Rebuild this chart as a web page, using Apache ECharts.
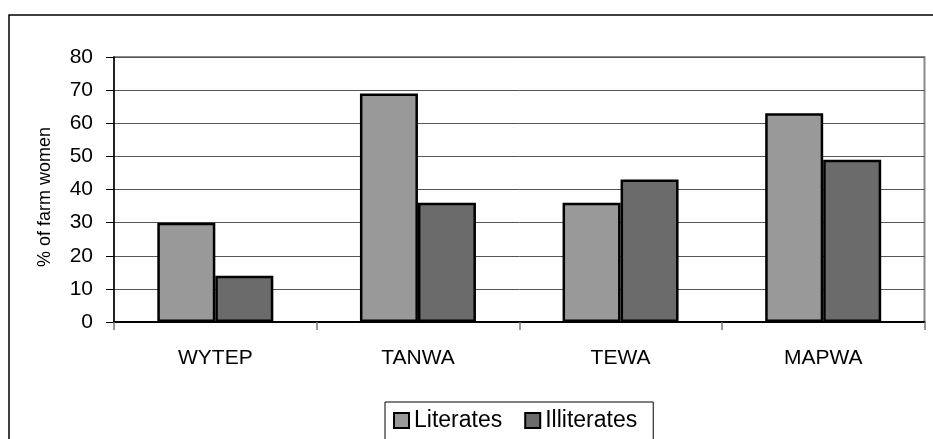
<!DOCTYPE html>
<html>
<head>
<meta charset="utf-8">
<script src="https://cdn.jsdelivr.net/npm/echarts@6/dist/echarts.min.js"></script>
<style>
  html, body { margin: 0; padding: 0; background: #fff; }
  #chart { width: 933px; height: 439px; }
</style>
</head>
<body>
<div id="chart"></div>
<script>
// Programmes compared
const categories = ['WYTEP', 'TANWA', 'TEWA', 'MAPWA'];
// Share of farm women (%) by literacy
const literates = [30, 69, 36, 63];
const illiterates = [14, 36, 43, 49];
// Value axis ticks
const yMin = 0, yMax = 80, yStep = 10;

const FONT = '"Liberation Sans", Arial, sans-serif';

const chart = echarts.init(document.getElementById('chart'), null, { renderer: 'canvas' });

chart.setOption({
  animation: false,
  backgroundColor: '#ffffff',
  grid: {
    left: 114, top: 57, right: 8.5, bottom: 117,
    show: true,
    borderColor: '#8a8a8a',
    borderWidth: 2,
    backgroundColor: 'transparent'
  },
  graphic: [
    {
      type: 'rect', z: -10, silent: true,
      shape: { x: 9, y: 15, width: 1000, height: 1000 },
      style: { fill: 'none', stroke: '#000', lineWidth: 1.5 }
    },
    {
      type: 'text', silent: true,
      x: 45, y: 197, rotation: Math.PI / 2,
      style: {
        text: '% of farm women', font: '18px ' + FONT, fill: '#000',
        align: 'center', verticalAlign: 'middle'
      }
    }
  ],
  legend: {
    left: 385, top: 402,
    itemWidth: 15, itemHeight: 15, itemGap: 22,
    icon: 'rect',
    padding: [7, 16, 20, 8],
    borderColor: '#000', borderWidth: 1,
    textStyle: { fontFamily: FONT, fontSize: 23, color: '#000' },
    data: ['Literates', 'Illiterates']
  },
  xAxis: {
    type: 'category',
    data: categories,
    axisLine: { lineStyle: { color: '#000', width: 2 } },
    axisTick: { show: true, alignWithLabel: false, length: 8, lineStyle: { color: '#777', width: 1.5 } },
    axisLabel: { fontFamily: FONT, fontSize: 21, color: '#000', margin: 26 },
    splitLine: { show: false }
  },
  yAxis: {
    type: 'value',
    min: yMin, max: yMax, interval: yStep,
    axisLine: { show: true, lineStyle: { color: '#000', width: 1.5 } },
    axisTick: { show: true, length: 8, lineStyle: { color: '#000', width: 1 } },
    axisLabel: { fontFamily: FONT, fontSize: 21, color: '#000', margin: 21 },
    splitLine: { show: true, lineStyle: { color: '#555', width: 1 } }
  },
  series: [
    {
      name: 'Literates', type: 'bar', data: literates,
      barWidth: 58, barGap: '0%',
      itemStyle: { color: '#999999', borderColor: '#000', borderWidth: 2.5 }
    },
    {
      name: 'Illiterates', type: 'bar', data: illiterates,
      barWidth: 58, barGap: '0%',
      itemStyle: { color: '#6b6b6b', borderColor: '#000', borderWidth: 2.5 }
    }
  ]
});
</script>
</body>
</html>
